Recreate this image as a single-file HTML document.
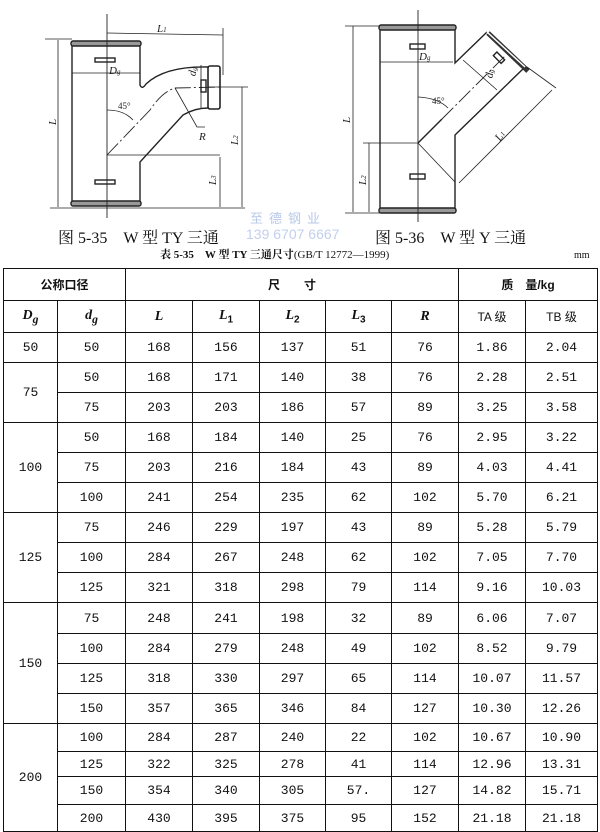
<!DOCTYPE html>
<html><head><meta charset="utf-8">
<style>
body{margin:0;width:600px;height:832px;background:#fff;overflow:hidden;position:relative;font-family:"Liberation Serif","Noto Serif CJK SC",serif;color:#111}
.t{position:absolute;white-space:nowrap}
table{position:absolute;left:3px;top:268px;border-collapse:collapse;font-family:"Liberation Mono","Noto Sans CJK SC",monospace;font-size:13px}
td{border:1.6px solid #111;text-align:center;padding:0}
.h td{font-family:"Liberation Sans","Noto Sans CJK SC",sans-serif;font-weight:bold;font-size:12px}
i{font-family:"Liberation Serif",serif;font-size:14px}
</style></head><body>
<svg width="600" height="225" style="position:absolute;left:0;top:0" fill="none" stroke="#222" stroke-width="1.4">
<!-- left figure -->
<path d="M72 44 V204 M140 44 V85 Q142 90 146 84 Q165 66 208 67 M140 204 V162 L183 115 Q195 108 208 108"/>
<rect x="71" y="41" width="70" height="5" rx="2" fill="#999"/>
<rect x="71" y="201" width="70" height="5" rx="2" fill="#999"/>
<rect x="208" y="66" width="12" height="43" rx="2" fill="#fff" stroke-width="1.6"/>
<rect x="95" y="58" width="20" height="4"/><rect x="95" y="180" width="20" height="4"/><rect x="201" y="80" width="5" height="12"/>
<path d="M107 14 V218" stroke-width="0.9"/>
<path d="M107 155 L150 110 Q162 92 175 88 L222 87" stroke-dasharray="16 3 2 3" stroke-width="0.9"/>
<g stroke-width="0.8">
<path d="M107 155 H220 M45 39 H72 M50 208 H245 M208 87 H248 M107 33 L223 35 M223 28 V75 M58 40 V207 M220 157 V207 M242 87 V207 M72 73 H140 M175 88 L197 127 L205 127 M201 65 V108"/>
<path d="M107 110 Q124 110 133 120"/>
</g>
<!-- right figure -->
<path d="M380 28 V210 M455 28 V63 L487 32 M525 67 L455 135 V210"/>
<rect x="379" y="25" width="77" height="5" rx="2" fill="#999"/>
<rect x="379" y="208" width="77" height="5" rx="2" fill="#999"/>
<path d="M488 33 L528 71" stroke="#333" stroke-width="5"/>
<path d="M487 32 L525 67" stroke="#fff" stroke-width="1.5"/>
<rect x="410" y="44" width="15" height="5"/><rect x="410" y="174" width="15" height="5"/>
<rect x="494" y="55" width="11" height="5" transform="rotate(45 499 57)"/>
<path d="M418 10 V222" stroke-width="0.9"/>
<path d="M418 143 L442 119" />
<path d="M442 119 L505 56" stroke-dasharray="16 3 2 3" stroke-width="0.9"/>
<g stroke-width="0.8">
<path d="M418 143 L455 182 M552 90 L459 183 M527 67 L556 88 M380 62 H453 M463 60 L497 90 M353 26 V212 M345 26 H380 M345 213 H380 M369 143 V212 M363 143 H418"/>
<path d="M418 97 Q438 98 448 108"/>
</g>
<g stroke="none" fill="#222" font-family="Liberation Serif,serif" font-style="italic" font-size="11">
<text x="157" y="32">L<tspan font-size="7">1</tspan></text><text x="109" y="74">D<tspan font-size="7">g</tspan></text>
<text x="189" y="75" transform="rotate(-80 193 72)">d<tspan font-size="7">g</tspan></text><text x="199" y="140">R</text><text x="118" y="109" font-style="normal" font-size="9">45°</text>
<text x="48" y="125" transform="rotate(-90 52 121)">L</text><text x="230" y="145" transform="rotate(-90 234 141)">L<tspan font-size="7">2</tspan></text><text x="208" y="185" transform="rotate(-90 212 181)">L<tspan font-size="7">3</tspan></text>
<text x="419" y="60">D<tspan font-size="7">g</tspan></text><text x="485" y="78" transform="rotate(-80 489 74)">d<tspan font-size="7">g</tspan></text><text x="432" y="104" font-style="normal" font-size="9">45°</text>
<text x="342" y="123" transform="rotate(-90 346 119)">L</text><text x="358" y="185" transform="rotate(-90 362 181)">L<tspan font-size="7">2</tspan></text><text x="495" y="140" transform="rotate(-55 499 136)">L<tspan font-size="7">1</tspan></text>
</g>
</svg>
<div class="t" style="left:250px;top:208px;color:#b8c8e8;font-family:'Noto Sans CJK SC',sans-serif;font-size:13px;letter-spacing:6px">至德钢业</div>
<div class="t" style="left:246px;top:226px;color:#c2d0ee;font-family:'Liberation Sans',sans-serif;font-size:14px">139 6707 6667</div>
<div class="t" style="left:58px;top:225px;font-size:16px">图 5-35　W 型 TY 三通</div>
<div class="t" style="left:375px;top:225px;font-size:16px">图 5-36　W 型 Y 三通</div>
<div class="t" style="left:160px;top:246px;font-size:11px;font-weight:bold">表 5-35　W 型 TY 三通尺寸<span style="font-weight:normal">(GB/T 12772—1999)</span></div>
<div class="t" style="left:574px;top:250px;font-size:10px">mm</div>
<table>
<colgroup><col style="width:54px"><col style="width:68px"><col style="width:67px"><col style="width:67px"><col style="width:66px"><col style="width:66px"><col style="width:67px"><col style="width:67px"><col style="width:72px"></colgroup>
<tr class="h" style="height:32px"><td colspan="2">公称口径</td><td colspan="5">尺　　寸</td><td colspan="2">质　量/kg</td></tr>
<tr class="h" style="height:32px"><td><i>D<sub>g</sub></i></td><td><i>d<sub>g</sub></i></td><td><i>L</i></td><td><i>L</i><sub>1</sub></td><td><i>L</i><sub>2</sub></td><td><i>L</i><sub>3</sub></td><td><i>R</i></td><td style="font-weight:normal">TA 级</td><td style="font-weight:normal">TB 级</td></tr>
<tr style="height:30px"><td>50</td><td>50</td><td>168</td><td>156</td><td>137</td><td>51</td><td>76</td><td>1.86</td><td>2.04</td></tr>
<tr style="height:30px"><td rowspan="2">75</td><td>50</td><td>168</td><td>171</td><td>140</td><td>38</td><td>76</td><td>2.28</td><td>2.51</td></tr>
<tr style="height:30px"><td>75</td><td>203</td><td>203</td><td>186</td><td>57</td><td>89</td><td>3.25</td><td>3.58</td></tr>
<tr style="height:30px"><td rowspan="3">100</td><td>50</td><td>168</td><td>184</td><td>140</td><td>25</td><td>76</td><td>2.95</td><td>3.22</td></tr>
<tr style="height:30px"><td>75</td><td>203</td><td>216</td><td>184</td><td>43</td><td>89</td><td>4.03</td><td>4.41</td></tr>
<tr style="height:30px"><td>100</td><td>241</td><td>254</td><td>235</td><td>62</td><td>102</td><td>5.70</td><td>6.21</td></tr>
<tr style="height:30px"><td rowspan="3">125</td><td>75</td><td>246</td><td>229</td><td>197</td><td>43</td><td>89</td><td>5.28</td><td>5.79</td></tr>
<tr style="height:30px"><td>100</td><td>284</td><td>267</td><td>248</td><td>62</td><td>102</td><td>7.05</td><td>7.70</td></tr>
<tr style="height:30px"><td>125</td><td>321</td><td>318</td><td>298</td><td>79</td><td>114</td><td>9.16</td><td>10.03</td></tr>
<tr style="height:31px"><td rowspan="4">150</td><td>75</td><td>248</td><td>241</td><td>198</td><td>32</td><td>89</td><td>6.06</td><td>7.07</td></tr>
<tr style="height:30px"><td>100</td><td>284</td><td>279</td><td>248</td><td>49</td><td>102</td><td>8.52</td><td>9.79</td></tr>
<tr style="height:30px"><td>125</td><td>318</td><td>330</td><td>297</td><td>65</td><td>114</td><td>10.07</td><td>11.57</td></tr>
<tr style="height:30px"><td>150</td><td>357</td><td>365</td><td>346</td><td>84</td><td>127</td><td>10.30</td><td>12.26</td></tr>
<tr style="height:28px"><td rowspan="4">200</td><td>100</td><td>284</td><td>287</td><td>240</td><td>22</td><td>102</td><td>10.67</td><td>10.90</td></tr>
<tr style="height:25px"><td>125</td><td>322</td><td>325</td><td>278</td><td>41</td><td>114</td><td>12.96</td><td>13.31</td></tr>
<tr style="height:28px"><td>150</td><td>354</td><td>340</td><td>305</td><td>57.</td><td>127</td><td>14.82</td><td>15.71</td></tr>
<tr style="height:27px"><td>200</td><td>430</td><td>395</td><td>375</td><td>95</td><td>152</td><td>21.18</td><td>21.18</td></tr>
</table>
</body></html>
